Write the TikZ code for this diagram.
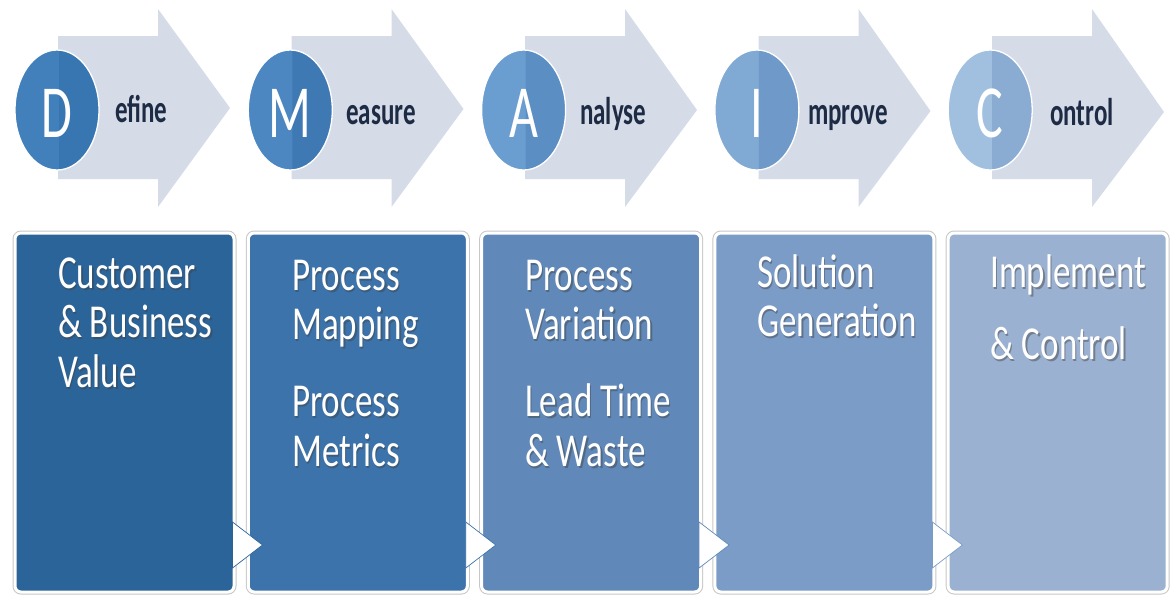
\documentclass[tikz,border=0pt]{standalone}
\usepackage{fontspec}
\setmainfont{Carlito}
\usepackage{graphicx}
\definecolor{arrowfill}{HTML}{D5DCE8}
\definecolor{cD1}{HTML}{4180BB}\definecolor{cD2}{HTML}{3876B1}
\definecolor{cM1}{HTML}{4C87C1}\definecolor{cM2}{HTML}{3F79B4}
\definecolor{cA1}{HTML}{6B9ED0}\definecolor{cA2}{HTML}{5B8EC3}
\definecolor{cI1}{HTML}{80A9D4}\definecolor{cI2}{HTML}{6E99C8}
\definecolor{cC1}{HTML}{A1BFDF}\definecolor{cC2}{HTML}{8AABD2}
\definecolor{bx1}{HTML}{2B6499}
\definecolor{bx2}{HTML}{3C73AB}
\definecolor{bx3}{HTML}{6089B9}
\definecolor{bx4}{HTML}{7B9CC7}
\definecolor{bx5}{HTML}{9BB1D1}
\definecolor{labtext}{HTML}{1E2B45}
\newcommand\boxtext[1]{\scalebox{1}[1.35]{\begin{tabular}[t]{@{}l@{}}#1\end{tabular}}}
\newcommand\btext[4]{%
  \node[btshadow] (#1s) at (#2+1.5,#3+2) {\boxtext{#4}};
  \node[bt] (#1) at (#2,#3) {\boxtext{#4}};}
\begin{document}
\begin{tikzpicture}[x=1pt,y=-1pt,
  boxst/.style={rounded corners=6pt, draw=white, line width=3pt, inner sep=0pt,
    minimum width=219pt, minimum height=359pt,
    preaction={draw=black!22, line width=5pt}},
  bt/.style={anchor=base west, inner sep=0pt, text=white, font=\fontsize{35}{37}\selectfont},
  btshadow/.style={bt, text=black!75, opacity=0.45},
  lab/.style={anchor=base west, inner sep=0pt, text=labtext, font=\bfseries\fontsize{25}{30}\selectfont},
  letter/.style={anchor=base, inner sep=0pt, text=white, font=\fontsize{50}{50}\selectfont},
  tri/.style={fill=white, line width=0.7pt}]
\useasboundingbox (0,0) rectangle (1173,600);
\fill[white] (0,0) rectangle (1173,600);
% arrows
\foreach \i in {0,...,4}{
  \pgfmathsetmacro\ox{233.5*\i}
  \fill[arrowfill] (58+\ox,36) -- (158+\ox,36) -- (158+\ox,9) -- (230+\ox,108+\i)
    -- (158+\ox,207) -- (158+\ox,179) -- (58+\ox,179) -- cycle;
}
% circles
\foreach \i/\cl/\cr in {0/cD1/cD2,1/cM1/cM2,2/cA1/cA2,3/cI1/cI2,4/cC1/cC2}{
  \pgfmathsetmacro\cx{57+233.3*\i}
  \fill[\cl] (\cx,110) ellipse [x radius=42pt, y radius=60pt];
  \begin{scope}
    \clip (\cx+2,40) rectangle (\cx+50,180);
    \fill[\cr] (\cx,110) ellipse [x radius=42pt, y radius=60pt];
  \end{scope}
  \draw[white, line width=1.3pt] (\cx,110) ellipse [x radius=42pt, y radius=60pt];
}
% letters and labels
\node[letter] (cD) at (57,137) {\scalebox{1}[1.5]{D}};
\node[letter] (cM) at (290.3,137) {\scalebox{1}[1.5]{M}};
\node[letter] (cA) at (523.6,137) {\scalebox{1}[1.5]{A}};
\node[letter] (cI) at (756.9,137) {\scalebox{1}[1.5]{I}};
\node[letter] (cC) at (990.2,137) {\scalebox{1}[1.5]{C}};
\node[lab] (lD) at (115,122) {\scalebox{1}[1.55]{efine}};
\node[lab] (lM) at (346,124) {\scalebox{1}[1.55]{easure}};
\node[lab] (lA) at (580,124) {\scalebox{1}[1.55]{nalyse}};
\node[lab] (lI) at (808,124) {\scalebox{1}[1.55]{mprove}};
\node[lab] (lC) at (1050,125) {\scalebox{1}[1.55]{ontrol}};
% boxes
\node[boxst, fill=bx1] (box1) at (124.5,412.5) {};
\node[boxst, fill=bx2] (box2) at (357.8,412.5) {};
\node[boxst, fill=bx3] (box3) at (591.1,412.5) {};
\node[boxst, fill=bx4] (box4) at (824.4,412.5) {};
\node[boxst, fill=bx5] (box5) at (1057.7,412.5) {};
% small triangles
\foreach \i/\bc in {1/bx1,2/bx2,3/bx3,4/bx4}{
  \draw[tri, draw=\bc] ([xshift=-3pt]box\i.east |- 0,522) -- ([xshift=27pt]box\i.east |- 0,545)
     -- ([xshift=-3pt]box\i.east |- 0,568) -- cycle;
}
% box texts
\btext{t1}{58}{288}{Customer\\ \& Business\\ Value}
\btext{t2}{292}{290}{Process\\ Mapping\\[20pt] Process\\ Metrics}
\btext{t3}{525}{290}{Process\\ Variation\\[20pt] Lead Time\\ \& Waste}
\btext{t4}{757}{287}{Solution\\ Generation}
\btext{t5}{990}{287}{Implement\\[17pt] \& Control}
\end{tikzpicture}
\end{document}
